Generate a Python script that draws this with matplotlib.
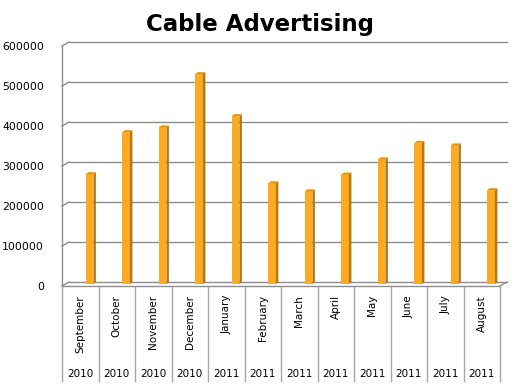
import matplotlib
matplotlib.use("Agg")
import matplotlib.pyplot as plt
from matplotlib.patches import Polygon

# ---- data ----
months = ["September", "October", "November", "December", "January", "February",
          "March", "April", "May", "June", "July", "August"]
years = ["2010", "2010", "2010", "2010", "2011", "2011",
         "2011", "2011", "2011", "2011", "2011", "2011"]
values = [275000, 380000, 392000, 525000, 420000, 252000,
          232000, 274000, 312000, 353000, 347000, 235000]
yticks = [0, 100000, 200000, 300000, 400000, 500000, 600000]
title = "Cable Advertising"

# ---- layout ----
W, H = 525, 392
AX_L, AX_R, AX_TOP, AX_BOT = 62, 500, 46, 286
fig = plt.figure(figsize=(W / 100, H / 100), dpi=100)
fig.patch.set_facecolor("white")
ax = fig.add_axes([AX_L / W, (H - AX_BOT) / H, (AX_R - AX_L) / W, (AX_BOT - AX_TOP) / H])
n = len(months)
ax.set_xlim(-0.5, n - 0.5)
ax.set_ylim(0, yticks[-1])
ax.patch.set_alpha(0)

ax_w_px = AX_R - AX_L
ax_h_px = AX_BOT - AX_TOP
px_x = n / ax_w_px                 # data units per pixel (x)
px_y = yticks[-1] / ax_h_px        # data units per pixel (y)

grid_c = "#8c8c8c"
table_c = "#a6a6a6"
DX, DY = 7, 4  # wall depth in pixels

for s in ["top", "right", "bottom"]:
    ax.spines[s].set_visible(False)
ax.spines["left"].set_color(grid_c)
ax.spines["left"].set_linewidth(1)
ax.set_xticks([])
ax.set_yticks(yticks)
ax.set_yticklabels([str(v) for v in yticks], fontsize=7.8, color="black")
ax.tick_params(axis="y", length=0, pad=13)

# back-wall gridlines + diagonal connectors
x0, x1 = -0.5, n - 0.5
for v in yticks:
    ax.plot([x0 + DX * px_x, x1 + DX * px_x], [v + DY * px_y] * 2,
            color=grid_c, lw=1, clip_on=False, zorder=1)
    ax.plot([x0, x0 + DX * px_x], [v, v + DY * px_y],
            color=grid_c, lw=1, clip_on=False, zorder=1)
# floor front edge and right diagonal
ax.plot([x0, x1], [0, 0], color=grid_c, lw=1, clip_on=False, zorder=1)
ax.plot([x1, x1 + DX * px_x], [0, DY * px_y], color=grid_c, lw=1, clip_on=False, zorder=1)

# bars (front face + side + top cap)
front_c = "#FDAA22"
side_c = "#B27A12"
top_c = "#D8921C"
xs = list(range(n))
bw = 7.5 * px_x
off = 0.155 + bw / 2
base = 2 * px_y
sdx, sdy = 2.5 * px_x, 1.8 * px_y
ax.bar([x + off for x in xs], values, width=bw, bottom=base, color=front_c,
       edgecolor="none", zorder=3)
for x, v in zip(xs, values):
    xl = x + off - bw / 2
    xr = x + off + bw / 2
    top = base + v
    ax.add_patch(Polygon([(xr, base), (xr + sdx, base + sdy), (xr + sdx, top + sdy), (xr, top)],
                         closed=True, facecolor=side_c, edgecolor="none", zorder=3, clip_on=False))
    ax.add_patch(Polygon([(xl, top), (xr, top), (xr + sdx, top + sdy), (xl + sdx, top + sdy)],
                         closed=True, facecolor=top_c, edgecolor="none", zorder=3, clip_on=False))

# category table below the plot
tr = ax.get_xaxis_transform()
for k in range(n + 1):
    ax.plot([k - 0.5, k - 0.5], [-1 / ax_h_px, -95 / ax_h_px], color=table_c, lw=1,
            transform=tr, clip_on=False)
for i, (m, y) in enumerate(zip(months, years)):
    ax.text(i, -9 / ax_h_px, m, rotation=90, ha="center", va="top",
            fontsize=7.5, transform=tr, color="black")
    ax.text(i, -88 / ax_h_px, y, ha="center", va="center",
            fontsize=7.5, transform=tr, color="black")

fig.text(260 / W, 1 - 25 / H, title, ha="center", va="center",
         fontsize=16.5, fontweight="bold", color="black")

fig.savefig("out.png", dpi=100, facecolor="white")
